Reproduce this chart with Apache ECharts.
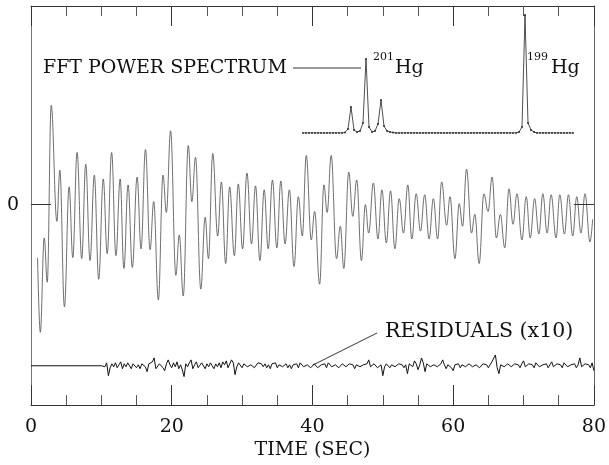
<!DOCTYPE html>
<html>
<head>
<meta charset="utf-8">
<script src="https://cdn.jsdelivr.net/npm/echarts@6/dist/echarts.min.js"></script>
<style>
html,body{margin:0;padding:0;background:#fff;}
#chart{width:609px;height:465px;}
</style>
</head>
<body>
<div id="chart"></div>
<script>
// ---- Data ----
// precession signal: times (s) of successive extrema and their amplitudes (arb. units)
const sigTimes = [0.93,1.32,1.88,2.31,2.87,3.68,4.10,4.75,5.42,5.94,6.55,7.21,7.78,8.39,9.00,9.62,10.27,10.83,11.46,12.07,12.67,13.20,13.80,14.40,15.08,15.64,16.27,16.92,17.44,18.10,18.76,19.24,19.84,20.59,21.07,21.64,22.35,22.86,23.38,24.13,24.75,25.22,25.83,26.53,27.06,27.67,28.23,28.90,29.46,30.07,30.69,31.34,31.91,32.53,33.14,33.71,34.31,34.94,35.50,36.11,36.72,37.38,37.99,38.56,39.12,39.83,40.31,41.02,41.63,42.09,42.66,43.42,43.96,44.46,45.16,45.73,46.29,46.96,47.52,47.99,48.66,49.31,49.87,50.50,51.10,51.71,52.33,52.94,53.55,54.12,54.74,55.35,55.95,56.58,57.18,57.79,58.36,59.07,59.55,60.25,60.86,61.33,61.90,62.60,63.08,63.69,64.36,64.96,65.53,66.14,66.70,67.33,67.93,68.50,69.07,69.77,70.38,70.95,71.57,72.18,72.74,73.35,73.92,74.62,75.15,75.81,76.38,76.99,77.56,78.16,78.73,79.44,79.82];
const sigValues = [-0.54,-1.30,-0.34,-0.79,1.01,-0.17,0.35,-1.04,0.18,-0.54,0.53,-0.55,0.41,-0.57,0.30,-0.76,0.26,-0.50,0.53,-0.52,0.26,-0.65,0.20,-0.64,0.28,-0.45,0.56,-0.46,0.03,-0.97,0.30,-0.08,0.75,-0.72,-0.31,-0.93,0.60,0.03,0.48,-0.86,-0.13,-0.55,0.52,-0.32,0.23,-0.60,0.18,-0.52,0.21,-0.45,0.32,-0.40,0.19,-0.57,0.15,-0.45,0.25,-0.44,0.24,-0.40,0.15,-0.63,0.08,-0.32,0.50,-0.36,-0.07,-0.81,0.20,-0.08,0.50,-0.55,-0.22,-0.65,0.33,-0.12,0.25,-0.57,0.00,-0.29,0.22,-0.35,0.15,-0.39,0.14,-0.45,0.06,-0.29,0.20,-0.35,0.11,-0.27,0.10,-0.35,0.06,-0.35,0.23,-0.21,0.08,-0.55,0.01,-0.22,0.36,-0.29,-0.10,-0.60,0.11,-0.07,0.28,-0.34,-0.10,-0.44,0.16,-0.20,0.11,-0.36,0.08,-0.34,0.06,-0.30,0.11,-0.29,0.10,-0.34,0.10,-0.30,0.10,-0.32,0.08,-0.29,0.11,-0.38,-0.15];

// residuals (x10): sampled every 0.25 s from 10 s to 80 s, deviation from their own baseline
const resStart = 10;
const resStep = 0.25;
const resOffset = -1.64;
const residuals = [
  0,2,-1,3, -10,-2,2,-1, 3,-2,1,4, -3,2,-1,3, 1,-3,2,4, -2,1,-3,2, 3,-1,-6,2, 1,4,8,-3, -4,2,3,-2, -5,2,6,1,
  -2,3,-1,4, -3,1,-4,-11, 2,-1,3,6, -3,1,4,-2, -2,3,1,-3, 2,-1,3,1, -3,2,-1,3, -2,4,1,5, -2,2,6,3, -9,-1,3,1,
  -2,2,4,-1, -3,1,2,-2, -2,3,1,2, -1,2,-2,1, -3,2,1,3, -2,1,3,-1, -1,2,-2,1, -3,1,3,2, -2,3,4,-1, -2,1,3,-2,
  -1,2,1,-2, -3,1,3,2, -2,3,4,-1, -3,1,2,-2, -2,2,3,-1, -1,2,4,1, -3,1,2,-1, -2,1,3,2, 6,-1,-2,2, 2,-2,-3,1,
  -10,-1,2,3, -2,1,3,-1, -3,2,4,1, -2,1,-8,2, 3,-1,5,2, -4,1,8,3, -6,2,4,-1, -2,1,3,-1, -2,2,6,1, -3,1,2,-2,
  -5,1,3,2, -2,1,2,-1, -3,2,3,-1, -2,1,2,-2, -3,2,3,1, -2,1,4,2, 11,-2,-8,1, 3,-1,-2,2, 4,-1,-3,2, 3,1,-2,2,
  5,-1,-3,2, 2,1,-2,3, 4,-1,-3,1, 3,2,-2,1, 4,-1,-3,2, 2,1,-2,3, 5,-1,-3,1, 3,2,-2,1, 8,-1,-3,2, 4,1,-2,3,
  -5
].map(v => v / 100);

// FFT power spectrum inset: power per frequency bin (arb. units)
const fftPower = [0,0,0,0,0,0,0,0,0,0,0,0,0,0,0.5,4,26,3,1,2,10,74,6,1,2,9,33,7,2,1,0.5,0,0,0,0,0,0,0,0,0,0,0,0,0,0,0,0,0,0,0,0,0,0,0,0,0,0,0,0,0,0,0,0,0,0,0,0,0,0,0,0,0,1,6,118,10,3,1,0,0,0,0,0,0,0,0,0,0,0,0,0];

const xTickLabels = [0, 20, 40, 60, 80];
const yTickValues = [0];

// ---- Build ----
const serif = 'DejaVu Serif';
const ink = '#111';
const sigData = sigTimes.map((t, i) => [t, sigValues[i]]);
const resData = [[0, resOffset]].concat(residuals.map((r, i) => [resStart + i * resStep, resOffset + r]));
const fftData = fftPower.map((p, i) => [i, p]);

const chart = echarts.init(document.getElementById('chart'), null, {renderer: 'canvas'});
const axisLineStyle = {color: '#333', width: 1};

chart.setOption({
  animation: false,
  backgroundColor: '#fff',
  grid: [
    {left: 31, right: 13, top: 6, bottom: 53},
    {left: 303, right: 36, top: 13, height: 120}
  ],
  xAxis: [
    {
      gridIndex: 0, type: 'value', min: 0, max: 80, interval: 20, position: 'bottom',
      axisLine: {show: true, onZero: false, lineStyle: axisLineStyle},
      axisTick: {show: true, inside: true, length: 20, lineStyle: axisLineStyle},
      minorTick: {show: true, splitNumber: 4, length: 10, lineStyle: {color: '#555', width: 1}},
      splitLine: {show: false}, minorSplitLine: {show: false},
      axisLabel: {
        fontFamily: serif, fontSize: 19, color: ink, margin: 12,
        formatter: v => (xTickLabels.indexOf(v) >= 0 ? String(v) : '')
      },
      name: 'TIME (SEC)', nameLocation: 'middle', nameGap: 31,
      nameTextStyle: {fontFamily: serif, fontSize: 19, color: ink}
    },
    {
      gridIndex: 0, type: 'value', min: 0, max: 80, interval: 20, position: 'top',
      axisLine: {show: true, onZero: false, lineStyle: axisLineStyle},
      axisTick: {show: true, inside: true, length: 20, lineStyle: axisLineStyle},
      minorTick: {show: true, splitNumber: 4, length: 10, lineStyle: {color: '#555', width: 1}},
      splitLine: {show: false}, minorSplitLine: {show: false},
      axisLabel: {show: false}
    },
    {gridIndex: 1, type: 'value', min: 0, max: 90, show: false}
  ],
  yAxis: [
    {
      gridIndex: 0, type: 'value', min: -2.04, max: 2.02, position: 'left',
      axisLine: {show: true, onZero: false, lineStyle: {color: '#777', width: 1}},
      axisTick: {show: true, inside: true, length: 20, customValues: yTickValues, lineStyle: axisLineStyle},
      axisLabel: {show: true, customValues: yTickValues, fontFamily: serif, fontSize: 19, color: ink, margin: 12,
                  formatter: v => String(Math.round(v))},
      splitLine: {show: false}
    },
    {
      gridIndex: 0, type: 'value', min: -2.04, max: 2.02, position: 'right',
      axisLine: {show: true, onZero: false, lineStyle: {color: '#666', width: 1}},
      axisTick: {show: true, inside: true, length: 20, customValues: yTickValues, lineStyle: axisLineStyle},
      axisLabel: {show: false},
      splitLine: {show: false}
    },
    {gridIndex: 1, type: 'value', min: 0, max: 120, show: false}
  ],
  series: [
    {
      type: 'line', xAxisIndex: 0, yAxisIndex: 0, data: sigData,
      smooth: 0.4, smoothMonotone: 'x', showSymbol: false,
      lineStyle: {color: '#4a4a4a', width: 0.8}, z: 3
    },
    {
      type: 'line', xAxisIndex: 0, yAxisIndex: 0, data: resData,
      showSymbol: false, lineStyle: {color: '#111', width: 1}, z: 3
    },
    {
      type: 'line', xAxisIndex: 2, yAxisIndex: 2, data: fftData,
      showSymbol: true, symbol: 'circle', symbolSize: 1.8,
      itemStyle: {color: '#222'}, lineStyle: {color: '#222', width: 0.8}, z: 3
    }
  ],
  graphic: [
    {type: 'text', left: 43, top: 59, style: {text: 'FFT POWER SPECTRUM', font: '19px "DejaVu Serif"', fill: ink}},
    {type: 'line', shape: {x1: 293, y1: 68, x2: 361, y2: 68}, style: {stroke: '#333', lineWidth: 1}},
    {type: 'text', left: 373, top: 52, style: {text: '201', font: '11px "DejaVu Serif"', fill: ink}},
    {type: 'text', left: 395, top: 59, style: {text: 'Hg', font: '19px "DejaVu Serif"', fill: ink}},
    {type: 'text', left: 527, top: 52, style: {text: '199', font: '11px "DejaVu Serif"', fill: ink}},
    {type: 'text', left: 551, top: 59, style: {text: 'Hg', font: '19px "DejaVu Serif"', fill: ink}},
    {type: 'text', left: 385, top: 321, style: {text: 'RESIDUALS (x10)', font: '20.5px "DejaVu Serif"', fill: ink}},
    {type: 'line', shape: {x1: 313, y1: 365, x2: 377, y2: 333}, style: {stroke: '#333', lineWidth: 1}}
  ]
});
</script>
</body>
</html>
